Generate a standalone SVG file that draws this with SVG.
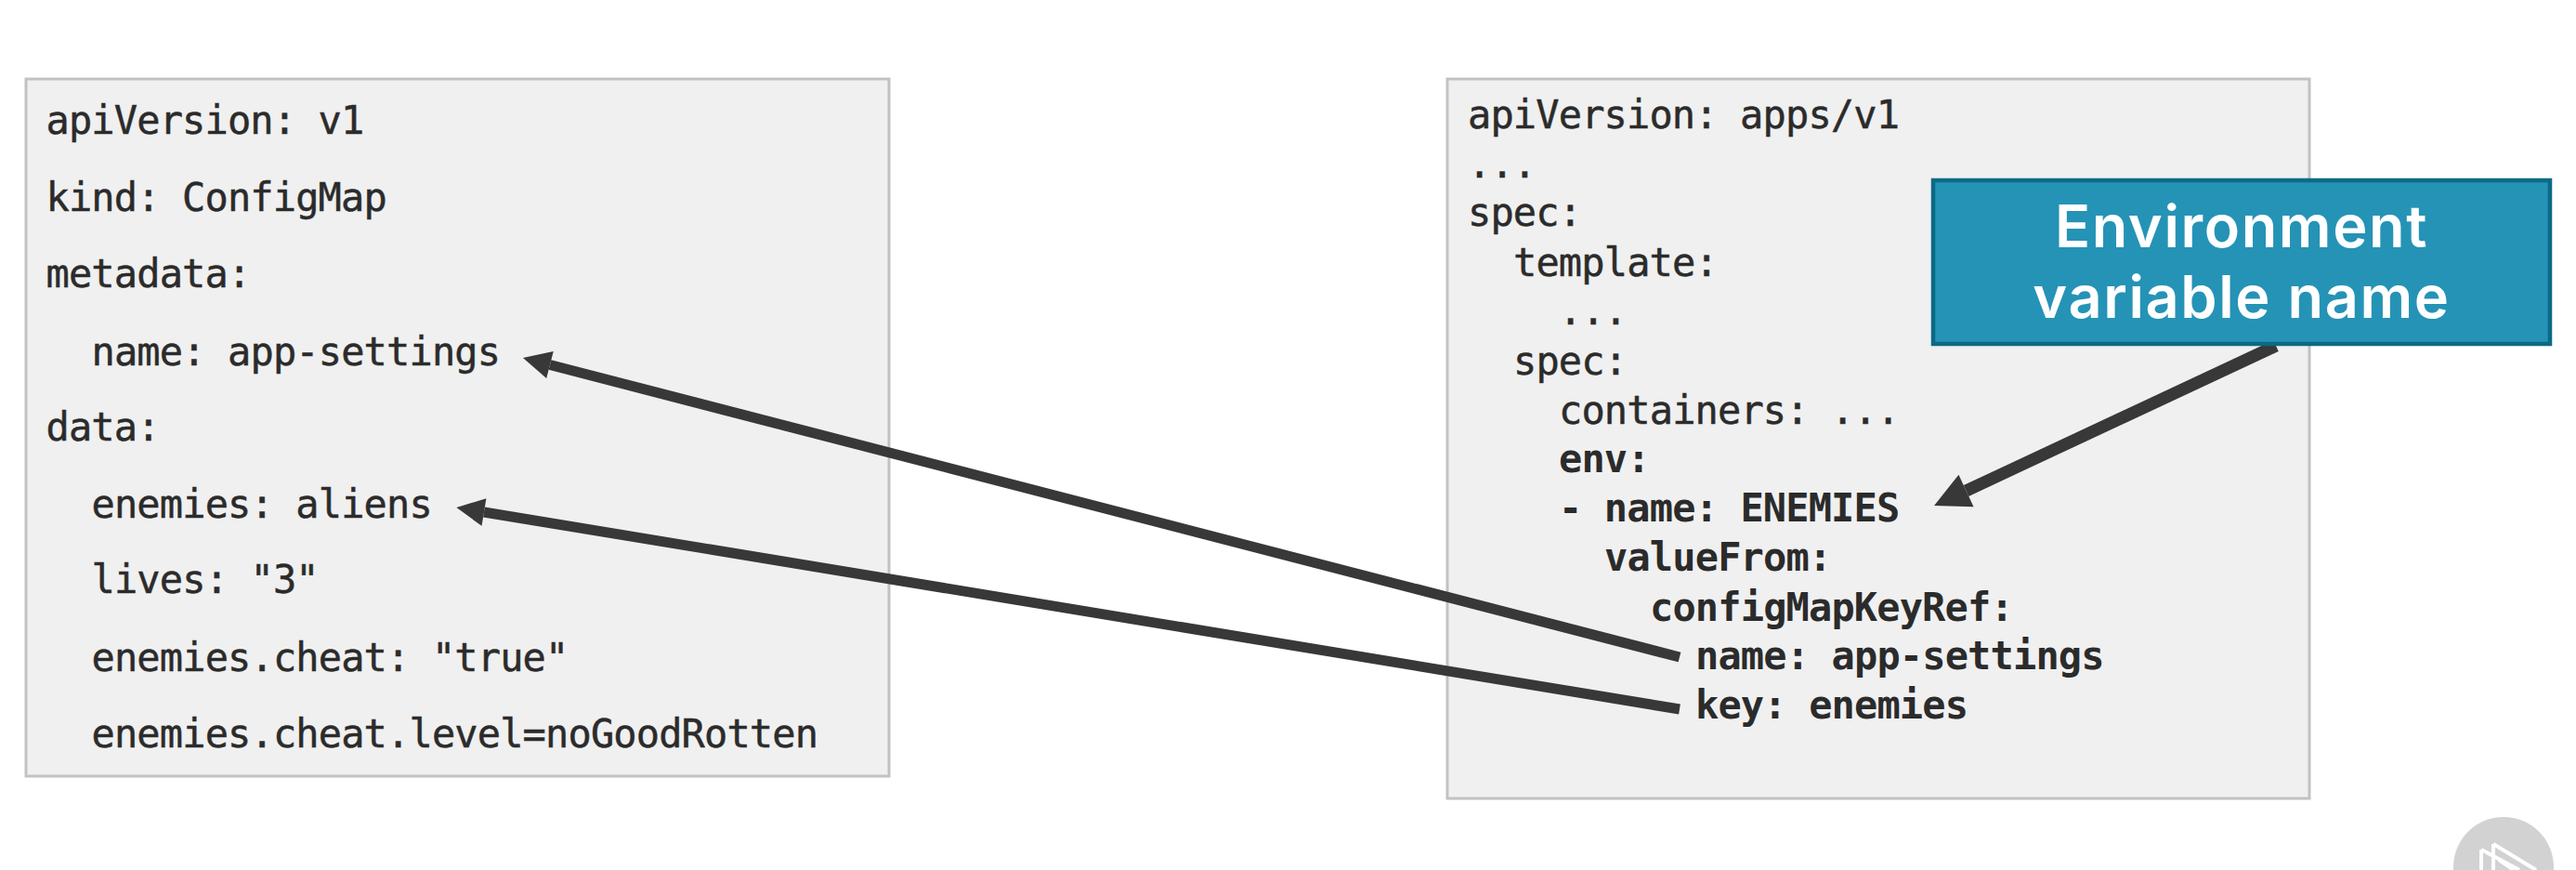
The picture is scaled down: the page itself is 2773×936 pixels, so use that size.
<svg xmlns="http://www.w3.org/2000/svg" width="2773" height="936" viewBox="0 0 2773 936">
<style>
.panel{fill:#f0f0f0;stroke:#c2c2c2;stroke-width:3}
.code{font-family:"DejaVu Sans Mono","Liberation Mono",monospace;font-size:42px;letter-spacing:-.86px;fill:#2b2b2b;stroke:#2b2b2b;stroke-width:.5;white-space:pre}
.b{font-weight:700;stroke-width:0}
.arrow{stroke:#383838;stroke-width:11;fill:none;marker-end:url(#head)}
.arrow.big{stroke-width:13;marker-end:url(#headbig)}
.callout{fill:#2593b6;stroke:#0b6a85;stroke-width:4.5}
.ctext{font-family:"Inter","Open Sans",sans-serif;font-weight:600;font-size:63px;letter-spacing:1.6px;fill:#fff;text-anchor:middle}
</style>
<defs>
<marker id="head" markerUnits="userSpaceOnUse" markerWidth="34" markerHeight="34" refX="1" refY="17" orient="auto">
<path d="M31 17L1 2V32Z" fill="#383838"/>
</marker>
<marker id="headbig" markerUnits="userSpaceOnUse" markerWidth="42" markerHeight="40" refX="1" refY="20" orient="auto">
<path d="M39 20L1 1V39Z" fill="#383838"/>
</marker>
</defs>
<rect width="2773" height="936" fill="#fff"/>
<g id="configmap">
<rect class="panel" x="28" y="85" width="929" height="750"/>
<text class="code" x="49.5" y="143.5">apiVersion: v1</text>
<text class="code" x="49.5" y="226.5">kind: ConfigMap</text>
<text class="code" x="49.5" y="309">metadata:</text>
<text class="code" x="98.5" y="393">name: app-settings</text>
<text class="code" x="49.5" y="474">data:</text>
<text class="code" x="98.5" y="557">enemies: aliens</text>
<text class="code" x="98.5" y="638">lives: "3"</text>
<text class="code" x="98.5" y="722">enemies.cheat: "true"</text>
<text class="code" x="98.5" y="804">enemies.cheat.level=noGoodRotten</text>
</g>
<g id="deployment">
<rect class="panel" x="1558" y="85" width="928" height="774"/>
<text class="code" x="1580" y="138">apiVersion: apps/v1</text>
<text class="code" x="1580" y="191">...</text>
<text class="code" x="1580" y="243">spec:</text>
<text class="code" x="1629" y="297">template:</text>
<text class="code" x="1678" y="349">...</text>
<text class="code" x="1629" y="403">spec:</text>
<text class="code" x="1678" y="456">containers: ...</text>
<text class="code b" x="1678" y="508">env:</text>
<text class="code b" x="1678" y="561">- name: ENEMIES</text>
<text class="code b" x="1727" y="614">valueFrom:</text>
<text class="code b" x="1776" y="668">configMapKeyRef:</text>
<text class="code b" x="1825" y="720">name: app-settings</text>
<text class="code b" x="1825" y="773">key: enemies</text>
</g>
<g id="connectors">
<line class="arrow" x1="1808" y1="707" x2="592" y2="392.5"/>
<line class="arrow" x1="1808" y1="763" x2="521" y2="551"/>
<line class="arrow big" x1="2450" y1="372" x2="2116.5" y2="528"/>
</g>
<g id="callout">
<rect class="callout" x="2081" y="194" width="664" height="176"/>
<text class="ctext" x="2413" y="266">Environment</text>
<text class="ctext" x="2413" y="342">variable name</text>
</g>
<g id="watermark">
<circle cx="2695" cy="933" r="54" fill="#d2d2d2"/>
<path d="M2671 914L2712 936M2671 914V936M2684 908L2730 936M2684 908V936M2690 925L2706 936" stroke="#fff" stroke-width="4" fill="none"/>
</g>
</svg>
